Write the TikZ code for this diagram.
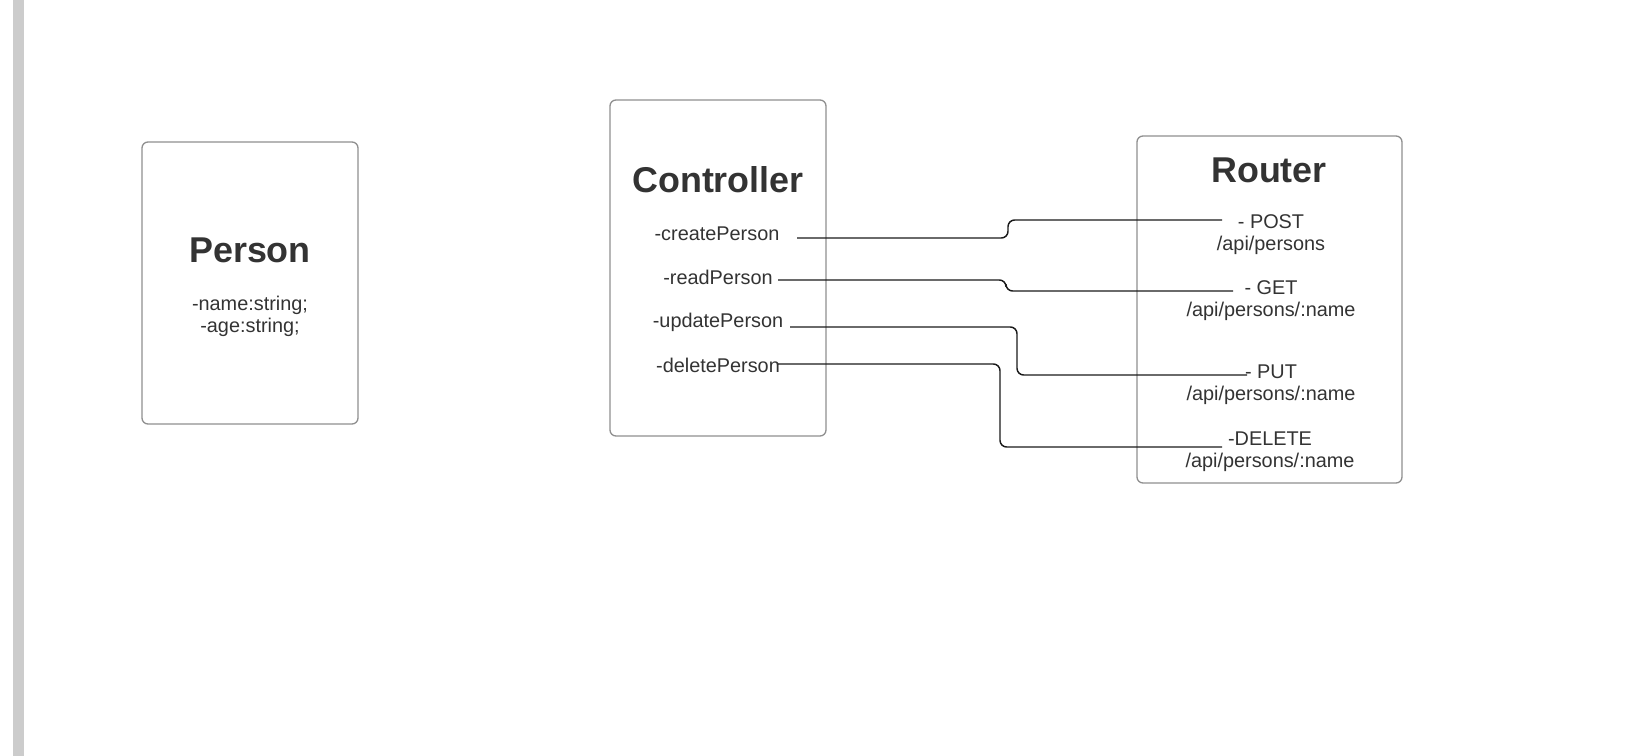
\documentclass[tikz,border=0pt]{standalone}
\usepackage{fontspec}
\setmainfont{Liberation Sans}
\definecolor{txt}{HTML}{333333}
\definecolor{boxline}{HTML}{8F8F8F}
\definecolor{barcol}{HTML}{CCCCCC}
\definecolor{wire}{HTML}{1A1A1A}
\tikzset{
  box/.style={draw=boxline, line width=1pt, rounded corners=4.5pt, rectangle, inner sep=0pt},
  title/.style={text=txt, font=\bfseries\fontsize{26.9}{30}\selectfont, inner sep=0pt},
  item/.style={text=txt, font=\fontsize{14.9}{16.6}\selectfont, inner sep=0pt, align=center},
  conn/.style={draw=wire, line width=1.1pt, rounded corners=5pt}
}
\begin{document}
\begin{tikzpicture}[x=0.75pt,y=-0.75pt]
\useasboundingbox (0,0) rectangle (1635,756);
\fill[barcol] (13,0) rectangle (24,756);

% Person
\node[box, minimum width=162pt, minimum height=211.5pt] (person) at (250,283) {};
\node[title] (personT) at (250,250) {Person};
\node[item] (personA) at (250,316) {-name:string;\\-age:string;};

% Controller
\node[box, minimum width=162pt, minimum height=252pt] (ctrl) at (718,268) {};
\node[title] (ctrlT) at (718,180) {Controller};
\node[item] (m1) at (717,234) {-createPerson};
\node[item] (m2) at (718,277) {-readPerson};
\node[item] (m3) at (718,322) {-updatePerson};
\node[item] (m4) at (718,365) {-deletePerson};

% Router
\node[box, minimum width=198.75pt, minimum height=260.25pt] (router) at (1269.5,309.5) {};
\node[title] (routerT) at (1269,170) {Router};
\node[item] (r1) at (1271,234.5) {- POST\\/api/persons};
\node[item] (r2) at (1271,300.5) {- GET\\/api/persons/:name};
\node[item] (r3) at (1271,385) {- PUT\\/api/persons/:name};
\node[item] (r4) at (1270,451.5) {-DELETE\\/api/persons/:name};

% connector end points
\coordinate (s1) at (797,238);
\coordinate (e1) at (1222,220);
\coordinate (s2) at (778,280);
\coordinate (e2) at (1233,291);
\coordinate (s3) at (790,327);
\coordinate (e3) at (1247,375);
\coordinate (s4) at (778,364);
\coordinate (e4) at (1222,447);

\draw[conn] (s1) -- (1008,238) -- (1008,220) -- (e1);
\draw[conn] (s2) -- (1006,280) -- (1006,291) -- (e2);
\draw[conn] (s3) -- (1017,327) -- (1017,375) -- (e3);
\draw[conn] (s4) -- (1000,364) -- (1000,447) -- (e4);
\end{tikzpicture}
\end{document}
